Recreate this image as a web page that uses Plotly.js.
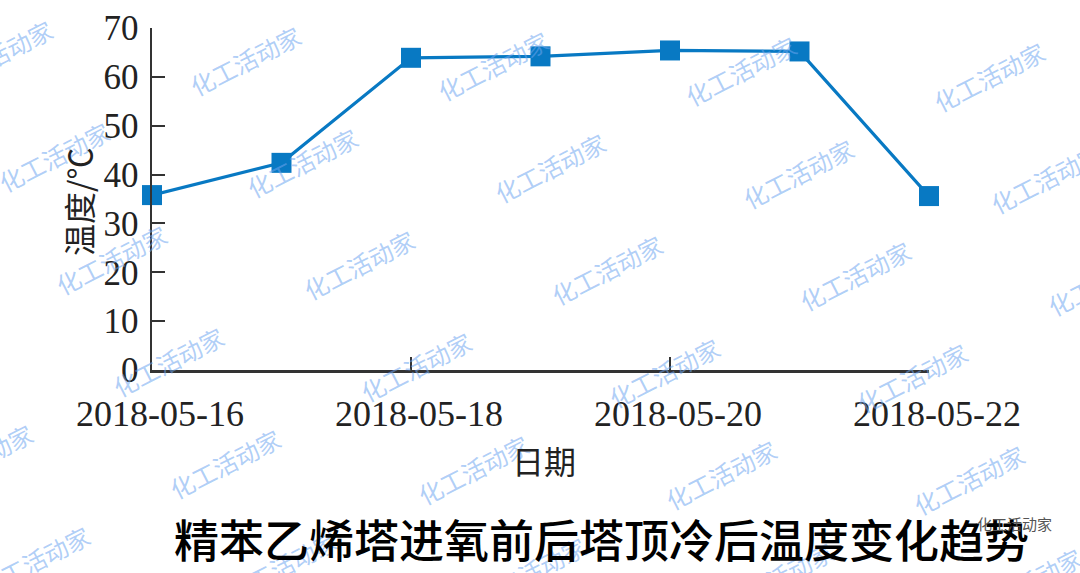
<!DOCTYPE html>
<html>
<head>
<meta charset="utf-8">
<script src="https://cdn.plot.ly/plotly-3.0.1.min.js"></script>
<style>html,body{margin:0;padding:0;background:#fff;}#chart{width:1080px;height:573px;}</style>
</head>
<body>
<div id="chart"></div>
<script>
const dates = ['2018-05-16','2018-05-17','2018-05-18','2018-05-19','2018-05-20','2018-05-21','2018-05-22'];
const temps = [35.8, 42.4, 63.9, 64.2, 65.4, 65.2, 35.6];
const xTickVals = ['2018-05-16','2018-05-18','2018-05-20','2018-05-22'];
const xTickText = ['2018-05-16','2018-05-18','2018-05-20','2018-05-22'];
const yTickVals = [0,10,20,30,40,50,60,70];
const chartTitle = '精苯乙烯塔进氧前后塔顶冷后温度变化趋势';
const xTitle = '日期';
const yTitle = '温度/℃';
const watermark = '化工活动家';

const W = 1080, H = 573;
const mL = 152, mR = 151, mT = 28, mB = 203;
const pw = W - mL - mR, ph = H - mT - mB;
function px2x(px){ return (px - mL) / pw; }
function px2y(py){ return (H - mB - py) / ph; }

const annotations = [];
// watermarks
for (let r = 0; r < 6; r++) {
  for (let c = -1; c < 5; c++) {
    const cx = -3 + 57 * r + 248 * c;
    const cy = 60 + 101 * r + (cx - 245) * 0.022;
    if (cx < -80 || cx > W + 60 || cy > H + 40) continue;
    annotations.push({
      xref: 'paper', yref: 'paper', x: px2x(cx), y: px2y(cy),
      text: watermark, showarrow: false, textangle: -27,
      xanchor: 'center', yanchor: 'middle',
      font: {family: 'Noto Sans CJK SC', size: 24, color: 'rgba(110,165,240,0.55)'}
    });
  }
}
// axis titles
annotations.push({
  xref: 'paper', yref: 'paper', x: px2x(78), y: px2y(202),
  text: yTitle, showarrow: false, textangle: -90,
  xanchor: 'center', yanchor: 'middle',
  font: {family: 'Noto Sans CJK SC', size: 32, color: '#222'}
});
annotations.push({
  xref: 'paper', yref: 'paper', x: px2x(544), y: px2y(460),
  text: xTitle, showarrow: false,
  xanchor: 'center', yanchor: 'middle',
  font: {family: 'Noto Sans CJK SC', size: 32, color: '#222'}
});
// chart title
annotations.push({
  xref: 'paper', yref: 'paper', x: px2x(601), y: px2y(538),
  text: chartTitle, showarrow: false,
  xanchor: 'center', yanchor: 'middle',
  font: {family: 'Noto Sans CJK SC', size: 45, color: '#000', weight: 500}
});
annotations.push({
  xref: 'paper', yref: 'paper', x: px2x(1014), y: px2y(523),
  text: watermark, showarrow: false,
  xanchor: 'center', yanchor: 'middle',
  font: {family: 'Noto Sans CJK SC', size: 15, color: '#555'}
});

const trace = {
  x: dates, y: temps, type: 'scatter', mode: 'lines+markers',
  line: {color: '#0879c3', width: 3.2},
  marker: {symbol: 'square', size: 20, color: '#0879c3'},
  cliponaxis: false
};

const layout = {
  width: W, height: H,
  margin: {l: mL, r: mR, t: mT, b: mB, pad: 0},
  paper_bgcolor: '#fff', plot_bgcolor: '#fff',
  showlegend: false,
  font: {family: 'Liberation Serif', color: '#222'},
  xaxis: {
    type: 'date', range: ['2018-05-16','2018-05-22'],
    tickmode: 'array', tickvals: xTickVals, ticktext: xTickText,
    ticks: 'inside', ticklen: 13, tickwidth: 2, tickcolor: '#333',
    showline: true, linecolor: '#333', linewidth: 2.5, mirror: false,
    showgrid: false, zeroline: false,
    tickfont: {family: 'Liberation Serif', size: 36, color: '#222'},
    ticklabelstandoff: 10, ticklabelshift: 8
  },
  yaxis: {
    range: [0, 70], tickmode: 'array', tickvals: yTickVals,
    ticks: 'inside', ticklen: 13, tickwidth: 2, tickcolor: '#333',
    showline: true, linecolor: '#333', linewidth: 2.5, mirror: false,
    showgrid: false, zeroline: false,
    tickfont: {family: 'Liberation Serif', size: 35, color: '#222'},
    ticklabelstandoff: 4
  },
  annotations: annotations
};

Plotly.newPlot('chart', [trace], layout, {displayModeBar: false, staticPlot: true});
</script>
</body>
</html>
